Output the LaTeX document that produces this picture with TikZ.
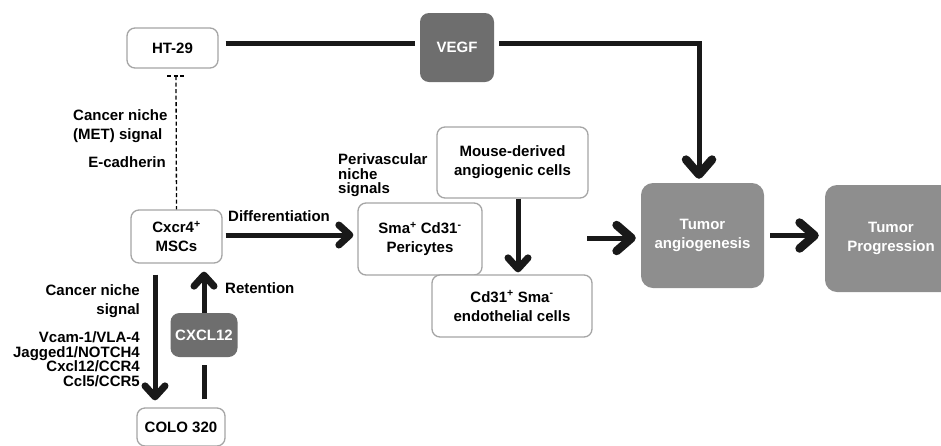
\documentclass[tikz,border=0pt]{standalone}
\usepackage{fontspec}
\setmainfont{Liberation Sans}
\usetikzlibrary{arrows.meta}
\definecolor{dkgray}{HTML}{6E6E6E}
\definecolor{ltgray}{HTML}{8E8E8E}
\definecolor{bordergray}{HTML}{A5A5A5}
\begin{document}
\begin{tikzpicture}[x=1pt,y=-1pt,
  txt/.style={font=\fontsize{15}{19}\selectfont\bfseries, inner sep=0pt},
  tight/.style={font=\fontsize{15}{14.5}\selectfont\bfseries, inner sep=0pt},
  wbox/.style={txt, draw=bordergray, line width=1.3pt, rounded corners=8pt, fill=white, align=center},
  gbox/.style={txt, fill=dkgray, rounded corners=9pt, text=white, align=center},
  tbox/.style={gbox, fill=ltgray, rounded corners=12pt},
  thk/.style={line width=5pt, draw=black!90},
  big/.style={thk, -{Straight Barb[length=11pt,width=20pt,line width=7pt,round]}},
  huge/.style={thk, -{Straight Barb[length=15pt,width=26pt,line width=8.5pt,round]}},
  dsh/.style={line width=1.3pt, dash pattern=on 4pt off 2.5pt}
]
\useasboundingbox (0,0) rectangle (941,445);

% boxes
\node[wbox, minimum width=91pt, minimum height=40pt] (ht) at (172.5,48) {HT-29};
\node[gbox, minimum width=74pt, minimum height=69pt] (vegf) at (457,47.5) {VEGF};
\node[wbox, minimum width=91pt, minimum height=53pt] (msc) at (176.5,236.5) {Cxcr4\textsuperscript{+}\\MSCs};
\node[gbox, minimum width=67pt, minimum height=44pt] (cxcl) at (204,335) {CXCL12};
\node[wbox, minimum width=88pt, minimum height=38pt] (colo) at (181,427) {COLO 320};
\node[wbox, minimum width=124pt, minimum height=72pt] (peri) at (420,239) {Sma\textsuperscript{+} Cd31\textsuperscript{-}\\Pericytes};
\node[wbox, minimum width=151pt, minimum height=71pt] (mouse) at (512.5,162.5) {Mouse-derived\\angiogenic cells};
\node[wbox, minimum width=160pt, minimum height=62pt] (endo) at (512,306) {Cd31\textsuperscript{+} Sma\textsuperscript{-}\\endothelial cells};
\node[tbox, minimum width=123pt, minimum height=105pt] (angio) at (702.5,235.5) {Tumor\\angiogenesis};
\node[tbox, minimum width=132pt, minimum height=107pt] (prog) at (891,238.5) {Tumor\\Progression};

% helper coordinates
\coordinate (corner) at (699,43);
\coordinate (tee) at (176,76);
\coordinate (grp) at (587,238);

% connectors
\draw[thk, shorten <=7pt, shorten >=5pt] ([yshift=5pt]ht.east) -- ([yshift=5pt]ht.east -| vegf.west);
\draw[huge, shorten <=5pt, shorten >=4pt] ([yshift=4.5pt]vegf.east) -- (corner) -- (corner |- angio.north);
\draw[dsh] (tee) -- (msc.north);
\draw[dsh] ([xshift=-9pt]tee) -- ([xshift=9pt]tee);
\draw[big, shorten <=3pt, shorten >=4pt] ([yshift=1.5pt]msc.east) -- ([yshift=1.5pt]msc.east -| peri.west);
\draw[big, shorten >=2pt] ([xshift=5.5pt]mouse.south) -- ([xshift=5.5pt]mouse.south |- endo.north);
\draw[huge, shorten >=5pt] (grp) -- (grp -| angio.west);
\draw[huge, shorten <=6pt, shorten >=6pt] (angio.east) -- (angio.east -| prog.west);
\draw[big, shorten <=11pt, shorten >=7pt] ([xshift=-21.5pt]msc.south) -- ([xshift=-21.5pt]msc.south |- colo.north);
\draw[thk, shorten <=8pt, shorten >=8pt] (cxcl.south |- colo.north) -- (cxcl.south);
\draw[big, shorten >=8pt] (cxcl.north) -- (cxcl.north |- msc.south);

% labels
\node[txt, anchor=west] (diff) at (228,216) {Differentiation};
\node[txt, anchor=west] (ret) at (225,288) {Retention};
\node[tight, align=left, anchor=west] (perilab) at (338,175.5) {Perivascular\\niche\\signals};
\node[txt, align=right, anchor=east] (cns) at (140,301.5) {Cancer niche\\signal};
\node[tight, align=right, anchor=east] (pairs) at (140,359) {Vcam-1/VLA-4\\Jagged1/NOTCH4\\Cxcl12/CCR4\\Ccl5/CCR5};
\node[txt, align=left, anchor=west] (met) at (73,126.5) {Cancer niche\\(MET) signal};
\node[txt, anchor=east] (ecad) at (166,162) {E-cadherin};
\end{tikzpicture}
\end{document}
